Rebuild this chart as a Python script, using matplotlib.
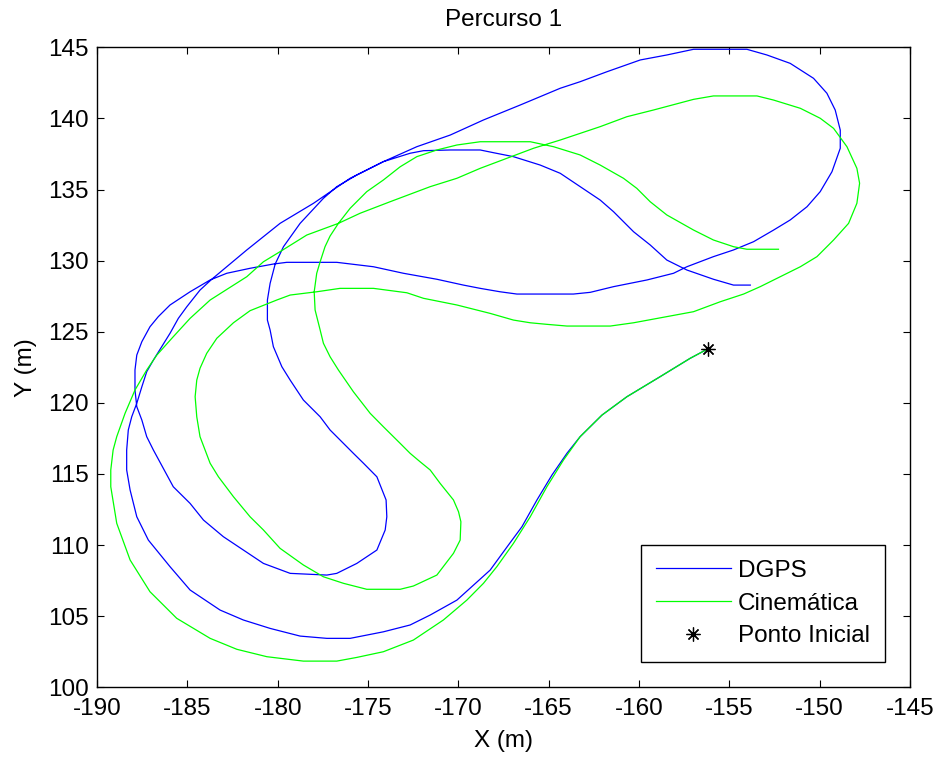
import numpy as np
import matplotlib.pyplot as plt

plt.rcParams['font.family'] = ['Liberation Sans', 'DejaVu Sans']
plt.rcParams['axes.unicode_minus'] = False

# trajetoria medida pelo DGPS (x, y em metros)
dgps_x = [-156.24, -157.17, -158.83, -160.67, -162.05, -163.26, -163.99, -164.82, -165.65, -166.48,
          -167.23, -168.24, -170.08, -171.56, -172.67, -174.15, -175.99, -177.28, -178.76, -180.42,
          -181.90, -183.19, -184.85, -185.96, -187.16, -187.80, -188.17, -188.36, -188.36, -188.27,
          -188.08, -187.80, -187.52, -187.25, -186.88, -186.42, -185.96, -185.50, -185.03, -184.30,
          -183.65, -181.71, -179.87, -178.02, -175.99, -174.15, -172.30, -170.45, -168.61, -166.58,
          -164.36, -163.26, -161.78, -159.93, -158.46, -156.98, -154.03, -152.92, -151.63, -150.34,
          -149.60, -149.14, -148.86, -148.86, -149.32, -149.97, -150.70, -151.63, -152.55, -153.66,
          -154.77, -155.88, -157.35, -158.09, -159.56, -161.41, -162.70, -163.63, -166.76, -167.69,
          -168.79, -169.72, -171.19, -173.04, -174.70, -176.73, -179.50, -180.24, -181.53, -182.82,
          -183.74, -184.85, -185.96, -186.61, -187.07, -187.52, -187.80, -187.90, -187.90, -187.80,
          -187.52, -187.25, -186.88, -185.78, -184.85, -184.11, -183.01, -181.90, -180.79, -179.31,
          -177.28, -176.73, -175.62, -174.51, -174.05, -173.96, -174.00, -174.51, -175.25, -175.81,
          -176.36, -177.10, -177.65, -178.58, -179.31, -179.77, -180.24, -180.42, -180.57, -180.57,
          -180.42, -180.14, -179.68, -178.76, -177.47, -176.73, -175.62, -174.15, -172.67, -171.93,
          -170.45, -168.79, -168.06, -166.95, -165.47, -164.36, -163.26, -162.15, -161.41, -160.30,
          -159.38, -158.46, -157.35, -155.88, -154.77, -153.84]
dgps_y = [123.76, 123.13, 121.84, 120.43, 119.14, 117.62, 116.45, 114.92, 113.17, 111.29,
          110.00, 108.24, 106.13, 105.08, 104.38, 103.90, 103.44, 103.44, 103.60, 104.14,
          104.73, 105.43, 106.84, 108.48, 110.35, 111.99, 113.87, 115.28, 116.68, 118.09,
          119.02, 119.97, 121.13, 122.19, 123.01, 123.95, 124.89, 125.94, 126.76, 127.93,
          128.69, 130.75, 132.62, 134.03, 135.79, 136.96, 138.01, 138.83, 139.89, 140.94,
          142.12, 142.58, 143.28, 144.11, 144.46, 144.86, 144.86, 144.46, 143.87, 142.82,
          141.77, 140.59, 139.18, 137.90, 136.25, 134.85, 133.79, 132.86, 132.15, 131.33,
          130.75, 130.28, 129.57, 129.11, 128.64, 128.17, 127.77, 127.65, 127.65, 127.81,
          128.05, 128.28, 128.69, 129.11, 129.57, 129.88, 129.88, 129.76, 129.46, 129.11,
          128.64, 127.81, 126.88, 126.06, 125.35, 124.30, 123.36, 122.31, 120.90, 119.73,
          118.79, 117.62, 116.68, 114.10, 112.93, 111.76, 110.59, 109.65, 108.71, 108.01,
          107.89, 108.01, 108.71, 109.65, 111.06, 111.99, 113.17, 114.80, 115.75, 116.45,
          117.15, 118.09, 119.02, 120.20, 121.60, 122.54, 123.95, 125.12, 125.82, 127.23,
          128.40, 129.76, 130.98, 132.62, 134.38, 135.20, 136.02, 136.96, 137.55, 137.73,
          137.78, 137.78, 137.59, 137.31, 136.72, 136.14, 135.20, 134.26, 133.44, 132.03,
          131.10, 130.04, 129.34, 128.69, 128.28, 128.28]

# trajetoria estimada pelo modelo cinematico
cin_x = [-156.24, -157.17, -158.83, -160.67, -162.05, -163.26, -164.18, -165.10, -166.02, -166.95,
         -167.87, -168.61, -169.53, -170.83, -172.49, -174.15, -175.62, -176.73, -178.58, -180.60,
         -182.26, -183.74, -185.59, -187.07, -188.17, -188.91, -189.24, -189.24, -189.11, -188.91,
         -188.45, -187.90, -187.25, -186.69, -185.78, -184.85, -183.74, -181.71, -180.79, -179.87,
         -178.39, -176.64, -175.44, -173.78, -171.56, -170.08, -168.79, -167.32, -165.84, -164.36,
         -162.15, -160.67, -159.20, -156.98, -155.88, -153.47, -152.55, -151.07, -149.97, -149.23,
         -148.49, -147.94, -147.79, -147.94, -148.40, -149.23, -150.15, -151.07, -152.18, -153.29,
         -154.21, -155.50, -156.98, -158.46, -160.30, -161.59, -163.99, -165.10, -166.02, -166.95,
         -168.24, -170.08, -171.93, -172.85, -174.70, -176.55, -177.84, -179.31, -180.05, -181.53,
         -182.45, -183.37, -183.93, -184.30, -184.48, -184.57, -184.48, -184.30, -183.74, -183.28,
         -182.45, -181.53, -180.79, -179.87, -178.58, -177.47, -176.36, -175.07, -173.22, -172.49,
         -171.19, -170.27, -169.90, -169.86, -169.99, -170.27, -171.01, -171.56, -172.12, -172.67,
         -173.22, -174.15, -174.88, -175.81, -176.64, -177.10, -177.47, -177.65, -177.93, -177.98,
         -177.84, -177.65, -177.38, -177.10, -176.64, -175.99, -175.07, -174.15, -173.22, -172.30,
         -171.19, -170.08, -168.79, -166.02, -164.73, -163.26, -162.15, -160.86, -160.12, -159.38,
         -158.46, -156.98, -155.88, -154.77, -154.03, -152.28]
cin_y = [123.76, 123.13, 121.84, 120.43, 119.14, 117.62, 115.98, 114.10, 111.99, 110.12,
         108.48, 107.31, 106.13, 104.73, 103.32, 102.50, 102.10, 101.84, 101.84, 102.15,
         102.67, 103.44, 104.85, 106.72, 108.95, 111.53, 114.10, 115.28, 116.68, 117.62,
         119.26, 120.90, 122.31, 123.36, 124.65, 125.94, 127.23, 128.87, 129.92, 130.63,
         131.80, 132.62, 133.33, 134.14, 135.20, 135.79, 136.49, 137.19, 137.90, 138.48,
         139.42, 140.12, 140.59, 141.34, 141.58, 141.58, 141.29, 140.71, 140.01, 139.30,
         138.01, 136.49, 135.44, 134.03, 132.62, 131.45, 130.28, 129.57, 128.87, 128.17,
         127.65, 127.11, 126.41, 126.06, 125.63, 125.40, 125.40, 125.52, 125.63, 125.82,
         126.29, 126.88, 127.35, 127.74, 128.05, 128.05, 127.81, 127.58, 127.23, 126.48,
         125.63, 124.54, 123.48, 122.43, 121.60, 120.43, 119.02, 117.62, 115.75, 114.80,
         113.40, 111.99, 111.06, 109.77, 108.60, 107.77, 107.31, 106.89, 106.89, 107.12,
         107.89, 109.42, 110.35, 111.64, 112.34, 113.17, 114.34, 115.28, 115.86, 116.45,
         117.15, 118.32, 119.26, 120.78, 122.31, 123.24, 124.19, 125.12, 126.53, 127.81,
         129.11, 129.92, 130.98, 131.73, 132.62, 133.68, 134.85, 135.67, 136.60, 137.31,
         137.78, 138.13, 138.36, 138.36, 138.01, 137.43, 136.72, 135.79, 135.08, 134.14,
         133.21, 132.15, 131.45, 130.98, 130.80, 130.80]

ponto_x = [-156.2]
ponto_y = [123.8]

fs = 17.5

fig = plt.figure(figsize=(9.34, 7.58), dpi=100)
ax = fig.add_axes([0.1039, 0.0933, 0.8704, 0.8443])

ax.plot(dgps_x, dgps_y, color=(0, 0, 1), lw=0.9, label='DGPS')
ax.plot(cin_x, cin_y, color=(0, 1, 0), lw=0.9, label='Cinemática')
# asterisco de 8 bracos, como o '*' do MATLAB
ax.plot(ponto_x, ponto_y, linestyle='none', marker=(8, 2, 0), ms=10,
        mec='k', mew=0.9, label='Ponto Inicial')

ax.set_xlim(-190, -145)
ax.set_ylim(100, 145)
ax.set_xticks(np.arange(-190, -144, 5))
ax.set_yticks(np.arange(100, 146, 5))
ax.tick_params(direction='in', length=5, width=0.8, labelsize=fs,
               top=True, right=True)
ax.tick_params(axis='x', pad=8)
ax.tick_params(axis='y', pad=6)
for s in ax.spines.values():
    s.set_linewidth(1.0)

ax.set_title('Percurso 1', fontsize=fs, pad=15)
ax.set_xlabel('X (m)', fontsize=fs, labelpad=7)
ax.set_ylabel('Y (m)', fontsize=fs, labelpad=8)

leg = ax.legend(loc='upper left', bbox_to_anchor=(641 / 934, 1 - 545 / 758),
                bbox_transform=fig.transFigure, fontsize=fs, fancybox=False,
                framealpha=1, edgecolor='k', handlelength=3.1, handletextpad=0.3,
                labelspacing=0.45, borderpad=0.6, borderaxespad=0, numpoints=1)
leg.get_frame().set_linewidth(1.0)

fig.savefig('out.png', dpi=100)
